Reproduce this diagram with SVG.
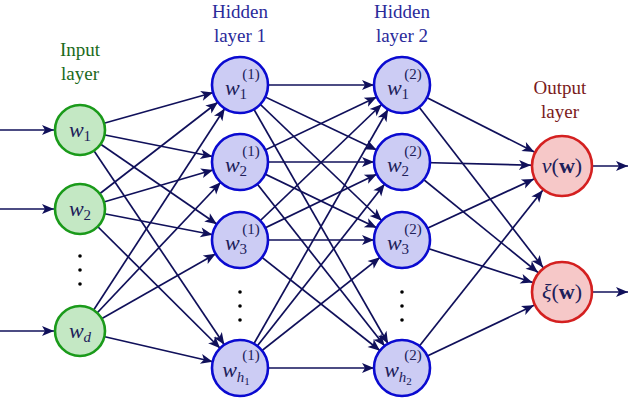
<svg xmlns="http://www.w3.org/2000/svg" width="640" height="404" viewBox="0 0 640 404">
<style>
.e{stroke:#10105a;stroke-width:1.7;fill:none}
.h{marker-end:url(#ah)}.o{marker-end:url(#ao)}.i{marker-end:url(#ai)}.t{marker-end:url(#at)}
.in{fill:#c4e8c4;stroke:#1a9a1a;stroke-width:2.6}
.hd{fill:#ccccf4;stroke:#0a0ad0;stroke-width:2.6}
.ou{fill:#f6c8c8;stroke:#d42020;stroke-width:2.6}
text{font-family:"Liberation Serif","DejaVu Serif",serif;text-anchor:middle}
.m{font-style:italic;font-size:22px;fill:#20205a}
.s{font-size:15px;font-style:normal}
.sup{font-size:15px;fill:#20205a}
.lab{font-size:19px}
</style>
<defs>
<marker id="ah" markerUnits="userSpaceOnUse" markerWidth="60" markerHeight="20" refX="40" refY="0" orient="auto" overflow="visible"><path d="M0,-5 L12,0 L0,5 L3,0z" fill="#10105a"/></marker>
<marker id="ao" markerUnits="userSpaceOnUse" markerWidth="60" markerHeight="20" refX="43" refY="0" orient="auto" overflow="visible"><path d="M0,-5 L12,0 L0,5 L3,0z" fill="#10105a"/></marker>
<marker id="ai" markerUnits="userSpaceOnUse" markerWidth="60" markerHeight="20" refX="38" refY="0" orient="auto" overflow="visible"><path d="M0,-5 L12,0 L0,5 L3,0z" fill="#10105a"/></marker>
<marker id="at" markerUnits="userSpaceOnUse" markerWidth="60" markerHeight="20" refX="12" refY="0" orient="auto" overflow="visible"><path d="M0,-5 L12,0 L0,5 L3,0z" fill="#10105a"/></marker>
</defs>
<g id="labels">
<text x="80" y="56" class="lab" fill="#1a6a1a">Input</text><text x="80" y="80" class="lab" fill="#1a6a1a">layer</text>
<text x="240" y="18" class="lab" fill="#2a2a9a">Hidden</text><text x="240" y="42" class="lab" fill="#2a2a9a">layer 1</text>
<text x="402" y="18" class="lab" fill="#2a2a9a">Hidden</text><text x="402" y="42" class="lab" fill="#2a2a9a">layer 2</text>
<text x="560" y="94" class="lab" fill="#7a1a1a">Output</text><text x="560" y="118" class="lab" fill="#7a1a1a">layer</text>
</g>
<g id="connectors">
<line class="e i" x1="0" y1="130" x2="80" y2="130"/>
<line class="e i" x1="0" y1="209" x2="80" y2="209"/>
<line class="e i" x1="0" y1="331" x2="80" y2="331"/>
<line class="e h" x1="80" y1="130" x2="240" y2="85"/><line class="e h" x1="80" y1="130" x2="240" y2="162"/><line class="e h" x1="80" y1="130" x2="240" y2="240"/><line class="e h" x1="80" y1="130" x2="240" y2="368"/>
<line class="e h" x1="80" y1="209" x2="240" y2="85"/><line class="e h" x1="80" y1="209" x2="240" y2="162"/><line class="e h" x1="80" y1="209" x2="240" y2="240"/><line class="e h" x1="80" y1="209" x2="240" y2="368"/>
<line class="e h" x1="80" y1="331" x2="240" y2="85"/><line class="e h" x1="80" y1="331" x2="240" y2="162"/><line class="e h" x1="80" y1="331" x2="240" y2="240"/><line class="e h" x1="80" y1="331" x2="240" y2="368"/>
<line class="e h" x1="240" y1="85" x2="402" y2="85"/><line class="e h" x1="240" y1="85" x2="402" y2="162"/><line class="e h" x1="240" y1="85" x2="402" y2="240"/><line class="e h" x1="240" y1="85" x2="402" y2="368"/>
<line class="e h" x1="240" y1="162" x2="402" y2="85"/><line class="e h" x1="240" y1="162" x2="402" y2="162"/><line class="e h" x1="240" y1="162" x2="402" y2="240"/><line class="e h" x1="240" y1="162" x2="402" y2="368"/>
<line class="e h" x1="240" y1="240" x2="402" y2="85"/><line class="e h" x1="240" y1="240" x2="402" y2="162"/><line class="e h" x1="240" y1="240" x2="402" y2="240"/><line class="e h" x1="240" y1="240" x2="402" y2="368"/>
<line class="e h" x1="240" y1="368" x2="402" y2="85"/><line class="e h" x1="240" y1="368" x2="402" y2="162"/><line class="e h" x1="240" y1="368" x2="402" y2="240"/><line class="e h" x1="240" y1="368" x2="402" y2="368"/>
<line class="e o" x1="402" y1="85" x2="562" y2="166"/><line class="e o" x1="402" y1="85" x2="562" y2="292"/>
<line class="e o" x1="402" y1="162" x2="562" y2="166"/><line class="e o" x1="402" y1="162" x2="562" y2="292"/>
<line class="e o" x1="402" y1="240" x2="562" y2="166"/><line class="e o" x1="402" y1="240" x2="562" y2="292"/>
<line class="e o" x1="402" y1="368" x2="562" y2="166"/><line class="e o" x1="402" y1="368" x2="562" y2="292"/>
<line class="e t" x1="592" y1="166" x2="628" y2="166"/>
<line class="e t" x1="592" y1="292" x2="628" y2="292"/>
</g>
<g id="dots" fill="#000">
<circle cx="80" cy="256" r="1.8"/><circle cx="80" cy="270" r="1.8"/><circle cx="80" cy="284" r="1.8"/>
<circle cx="240" cy="292" r="1.8"/><circle cx="240" cy="306" r="1.8"/><circle cx="240" cy="320" r="1.8"/>
<circle cx="402" cy="292" r="1.8"/><circle cx="402" cy="306" r="1.8"/><circle cx="402" cy="320" r="1.8"/>
</g>
<g id="in1"><circle class="in" cx="80" cy="130" r="25"/><text class="m" x="80" y="137">w<tspan class="s" dy="4">1</tspan></text></g>
<g id="in2"><circle class="in" cx="80" cy="209" r="25"/><text class="m" x="80" y="216">w<tspan class="s" dy="4">2</tspan></text></g>
<g id="ind"><circle class="in" cx="80" cy="331" r="25"/><text class="m" x="80" y="338">w<tspan font-size="15" dy="4">d</tspan></text></g>
<g id="h11"><circle class="hd" cx="240" cy="85" r="28"/><text class="m" x="236" y="95">w<tspan class="s" dy="4">1</tspan></text><text class="sup" x="251" y="79">(1)</text></g>
<g id="h12"><circle class="hd" cx="240" cy="162" r="28"/><text class="m" x="236" y="172">w<tspan class="s" dy="4">2</tspan></text><text class="sup" x="251" y="156">(1)</text></g>
<g id="h13"><circle class="hd" cx="240" cy="240" r="28"/><text class="m" x="236" y="250">w<tspan class="s" dy="4">3</tspan></text><text class="sup" x="251" y="234">(1)</text></g>
<g id="h1h"><circle class="hd" cx="240" cy="368" r="28"/><text class="m" x="236" y="377">w<tspan font-size="15" dy="5">h<tspan font-size="11" font-style="normal" dy="3">1</tspan></tspan></text><text class="sup" x="251" y="360">(1)</text></g>
<g id="h21"><circle class="hd" cx="402" cy="85" r="28"/><text class="m" x="398" y="95">w<tspan class="s" dy="4">1</tspan></text><text class="sup" x="413" y="79">(2)</text></g>
<g id="h22"><circle class="hd" cx="402" cy="162" r="28"/><text class="m" x="398" y="172">w<tspan class="s" dy="4">2</tspan></text><text class="sup" x="413" y="156">(2)</text></g>
<g id="h23"><circle class="hd" cx="402" cy="240" r="28"/><text class="m" x="398" y="250">w<tspan class="s" dy="4">3</tspan></text><text class="sup" x="413" y="234">(2)</text></g>
<g id="h2h"><circle class="hd" cx="402" cy="368" r="28"/><text class="m" x="398" y="377">w<tspan font-size="15" dy="5">h<tspan font-size="11" font-style="normal" dy="3">2</tspan></tspan></text><text class="sup" x="413" y="360">(2)</text></g>
<g id="onu"><circle class="ou" cx="562" cy="166" r="30"/><text class="m" x="562" y="173" fill="#3a1010">ν<tspan font-style="normal">(</tspan><tspan font-style="normal" font-weight="bold">w</tspan><tspan font-style="normal">)</tspan></text></g>
<g id="oxi"><circle class="ou" cx="562" cy="292" r="30"/><text class="m" x="562" y="299" fill="#3a1010">ξ<tspan font-style="normal">(</tspan><tspan font-style="normal" font-weight="bold">w</tspan><tspan font-style="normal">)</tspan></text></g>
</svg>
